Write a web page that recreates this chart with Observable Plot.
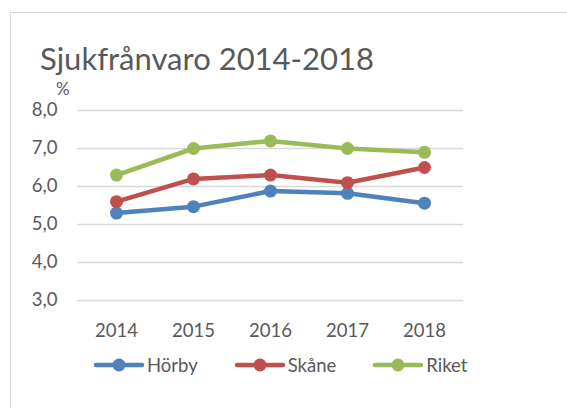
<!DOCTYPE html>
<html>
<head>
<meta charset="utf-8">
<script src="https://cdn.jsdelivr.net/npm/d3@7"></script>
<script src="https://cdn.jsdelivr.net/npm/@observablehq/plot@0.6"></script>
<style>
  html, body { margin: 0; padding: 0; background: #fff; }
  body { width: 567px; height: 408px; overflow: hidden; position: relative; font-family: Lato, "Open Sans", sans-serif; color: #595959; }
  #frame { position: absolute; left: 10px; top: 12px; width: 600px; height: 450px; border-left: 1.5px solid #D9D9D9; border-top: 1.5px solid #D9D9D9; }
  #title { position: absolute; left: 40px; top: 38px; font-size: 31px; line-height: 40px; white-space: nowrap; }
  #unit { position: absolute; left: 56px; top: 79px; font-size: 17px; line-height: 20px; }
  #chart { position: absolute; left: 0; top: 80px; }
  #legend { position: absolute; left: 93px; top: 352px; display: flex; gap: 36px; font-size: 18.5px; line-height: 26px; }
  .item { display: flex; align-items: center; gap: 2px; }
</style>
</head>
<body>
<div id="frame"></div>
<div id="title">Sjukfrånvaro 2014-2018</div>
<div id="unit">%</div>
<div id="chart"></div>
<div id="legend"></div>
<script>
const years = ["2014", "2015", "2016", "2017", "2018"];
const horby = [5.3, 5.47, 5.88, 5.82, 5.56];
const skane = [5.6, 6.2, 6.3, 6.1, 6.5];
const riket = [6.3, 7.0, 7.2, 7.0, 6.9];
const seriesNames = ["Hörby", "Skåne", "Riket"];
const seriesColors = ["#4F81BD", "#C0504D", "#9BBB59"];
const yTicks = [3, 4, 5, 6, 7, 8];

const seriesValues = [horby, skane, riket];
const rows = [];
seriesNames.forEach((name, s) => {
  years.forEach((yr, i) => rows.push({ serie: name, year: yr, value: seriesValues[s][i] }));
});

const fmt = d => d.toFixed(1).replace(".", ",");

const chart = Plot.plot({
  width: 567,
  height: 265,
  marginLeft: 77,
  marginRight: 104,
  marginTop: 30,
  marginBottom: 45,
  style: { fontFamily: "Lato, 'Open Sans', sans-serif", fontSize: "18.5px", color: "#595959", background: "transparent", overflow: "visible" },
  x: { type: "point", domain: years, padding: 0.5, label: null },
  y: { domain: [3, 8], label: null },
  color: { domain: seriesNames, range: seriesColors },
  marks: [
    Plot.ruleY(yTicks, { stroke: "#D9D9D9", strokeWidth: 1.3 }),
    Plot.axisY({ ticks: yTicks, tickFormat: fmt, tickSize: 0, tickPadding: 20, fill: "#595959", label: null }),
    Plot.axisX({ tickSize: 0, tickPadding: 23, fill: "#595959", label: null }),
    Plot.line(rows, { x: "year", y: "value", z: "serie", stroke: "serie", strokeWidth: 4.5, strokeLinejoin: "round", strokeLinecap: "round" }),
    Plot.dot(rows, { x: "year", y: "value", fill: "serie", r: 6.5, stroke: "none" })
  ]
});
document.getElementById("chart").appendChild(chart);

const legend = document.getElementById("legend");
seriesNames.forEach((name, i) => {
  const item = document.createElement("div");
  item.className = "item";
  item.innerHTML = `<svg width="52" height="16"><line x1="3" y1="8" x2="49" y2="8" stroke="${seriesColors[i]}" stroke-width="4.5" stroke-linecap="round"/><circle cx="26" cy="8" r="6.5" fill="${seriesColors[i]}"/></svg><span>${name}</span>`;
  legend.appendChild(item);
});
</script>
</body>
</html>
